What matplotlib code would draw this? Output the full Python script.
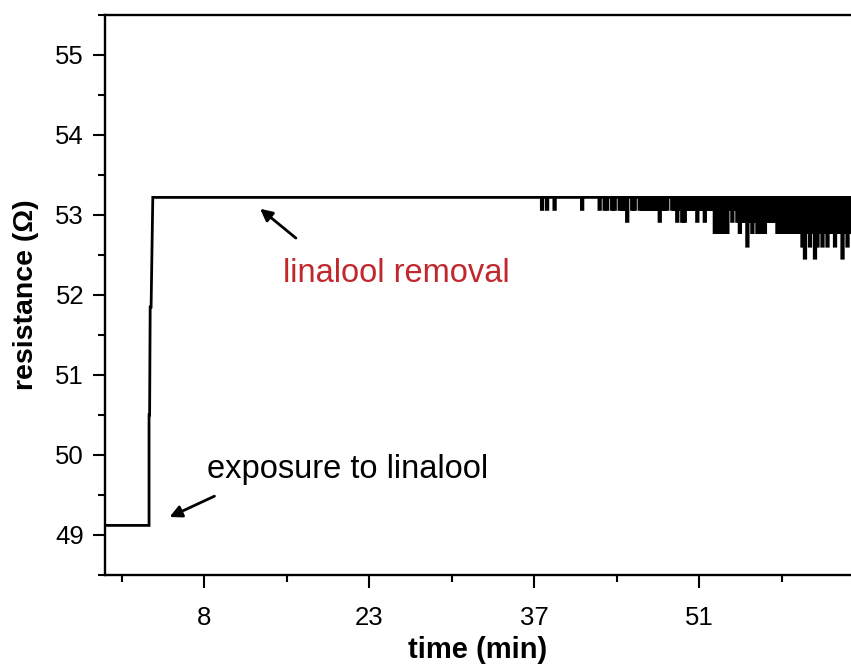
import numpy as np
import matplotlib
matplotlib.use('Agg')
import matplotlib.pyplot as plt

plt.rcParams['font.family'] = ['Liberation Sans', 'DejaVu Sans']

# Step at exposure: time (min) / resistance (Ohm)
t_step = [-0.7, 3.17, 3.17, 3.22, 3.27, 3.35, 3.50, 37.2]
r_step = [49.12, 49.12, 50.50, 50.50, 51.85, 51.85, 53.22, 53.22]

# Noisy part after linalool removal: one sample every ~0.22 min from 37.2 min
noise_start = 37.2
noise_dt = 0.22
levels = [53.22, 53.07, 52.92, 52.78, 52.61, 52.46]
noise_code = [0, 0, 1, 0, 1, 0, 0, 1, 0, 0,
              0, 0, 0, 0, 0, 0, 0, 0, 1, 0,
              0, 0, 0, 0, 0, 1, 0, 1, 1, 0,
              1, 1, 0, 1, 1, 1, 2, 0, 1, 1,
              0, 1, 1, 1, 1, 1, 1, 1, 1, 2,
              1, 1, 1, 0, 1, 1, 2, 1, 2, 2,
              1, 1, 1, 1, 2, 1, 1, 2, 1, 1,
              1, 3, 3, 3, 3, 3, 3, 1, 2, 1,
              2, 3, 2, 2, 4, 2, 3, 2, 3, 3,
              3, 3, 2, 2, 2, 2, 3, 3, 3, 3,
              3, 3, 3, 3, 3, 3, 4, 5, 3, 4,
              3, 5, 4, 3, 4, 3, 4, 3, 3, 4,
              3, 3, 5, 3, 4, 3]

x_ticks = [8, 22.5, 37, 51.5]
x_labels = ['8', '23', '37', '51']

# build the trace
t = list(t_step)
r = list(r_step)
top = levels[0]
for i, c in enumerate(noise_code):
    ti = noise_start + i * noise_dt
    low = levels[c]
    t += [ti, ti, ti + noise_dt * 0.6, ti + noise_dt * 0.6]
    r += [top, low, low, top]
t.append(65.5)
r.append(top)

fig = plt.figure(figsize=(8.51, 6.67), dpi=100)
ax = fig.add_axes([105/851, 92/667, 746/851, 560/667])

ax.plot(t, r, color='black', linewidth=2.0, solid_joinstyle='miter')

ax.set_xlim(-0.7, 64.85)
ax.set_ylim(48.5, 55.5)

ax.set_xticks(x_ticks)
ax.set_xticklabels(x_labels)
ax.set_xticks([0.75, 15.25, 29.75, 44.25, 58.75], minor=True)
ax.set_yticks([49, 50, 51, 52, 53, 54, 55])
ax.set_yticks([48.5, 49.5, 50.5, 51.5, 52.5, 53.5, 54.5, 55.5], minor=True)

ax.tick_params(which='major', direction='out', length=9, width=1.5, labelsize=18.5, pad=6)
ax.tick_params(axis='x', which='major', pad=13)
ax.tick_params(which='minor', direction='out', length=5, width=1.5)
for s in ['left', 'bottom', 'top']:
    ax.spines[s].set_linewidth(1.7)
ax.spines['right'].set_visible(False)

ax.set_xlabel('time (min)', fontsize=21, fontweight='bold', labelpad=5)
ax.set_ylabel('resistance (Ω)', fontsize=20.5, fontweight='bold', labelpad=12)

ax.text(8.26, 49.71, 'exposure to linalool', fontsize=23.5, color='black', va='baseline')
ax.annotate('', xy=(4.75, 49.21), xytext=(9.14, 49.50),
            arrowprops=dict(arrowstyle='-|>', color='black', lw=2, mutation_scale=18))

ax.text(14.94, 52.16, 'linalool removal', fontsize=23.5, color='#c0282d', va='baseline')
ax.annotate('', xy=(12.74, 53.10), xytext=(16.26, 52.69),
            arrowprops=dict(arrowstyle='-|>', color='black', lw=2, mutation_scale=18))

fig.savefig('out.png', dpi=100)
